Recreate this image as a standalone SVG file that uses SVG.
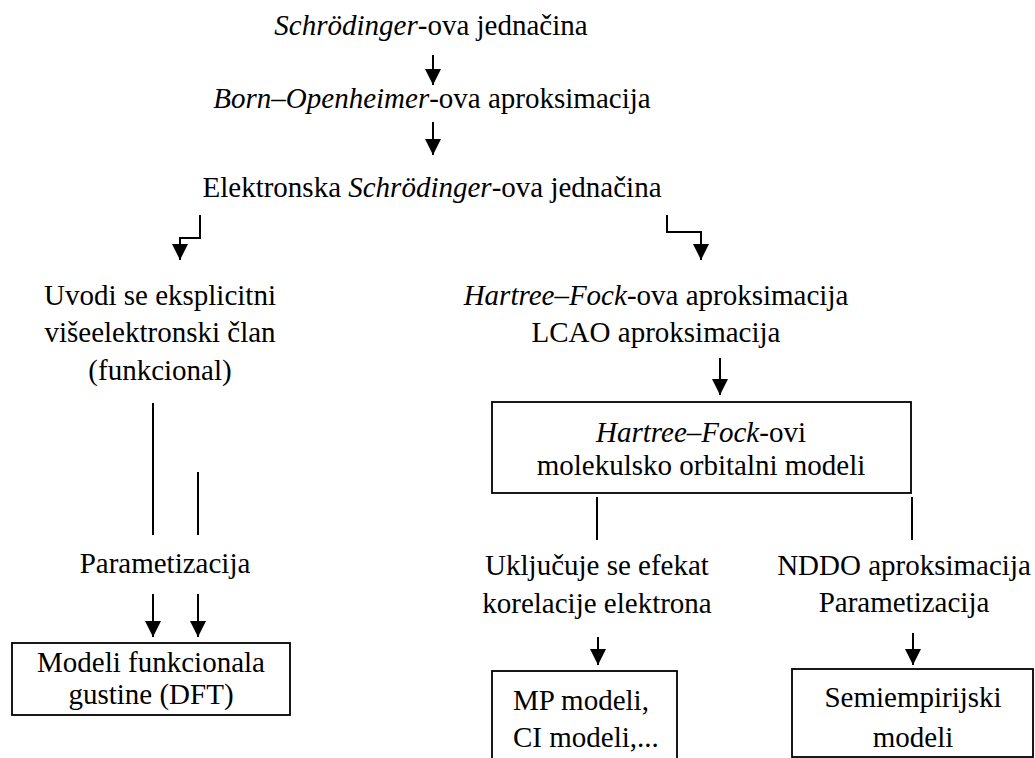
<svg xmlns="http://www.w3.org/2000/svg" width="1035" height="758" viewBox="0 0 1035 758">
<style>
text{font-family:"Liberation Serif","Times New Roman",serif;font-size:29px;fill:#000}
.c{text-anchor:middle}
.i{font-style:italic}
.ln{stroke:#000;stroke-width:2;fill:none}
.bx{stroke:#000;stroke-width:1.8;fill:#fff}
</style>
<defs>
<marker id="ah" viewBox="0 0 16 16" refX="16" refY="8" markerWidth="16" markerHeight="16" markerUnits="userSpaceOnUse" orient="auto">
<path d="M0,0 L16,8 L0,16 z" fill="#000"/>
</marker>
</defs>
<rect width="1035" height="758" fill="#fff"/>
<g id="connectors">
<path class="ln" d="M433,55 V85" marker-end="url(#ah)"/>
<path class="ln" d="M433,122 V155" marker-end="url(#ah)"/>
<path class="ln" d="M200,215 V238 H180 V260" marker-end="url(#ah)"/>
<path class="ln" d="M667,215 V232 H701 V260" marker-end="url(#ah)"/>
<path class="ln" d="M720,358 V395" marker-end="url(#ah)"/>
<path class="ln" d="M153,403 V535"/>
<path class="ln" d="M198,472 V535"/>
<path class="ln" d="M153,594 V637" marker-end="url(#ah)"/>
<path class="ln" d="M198,594 V637" marker-end="url(#ah)"/>
<path class="ln" d="M597,497 V540"/>
<path class="ln" d="M912,497 V540"/>
<path class="ln" d="M598,637 V665" marker-end="url(#ah)"/>
<path class="ln" d="M913,633 V665" marker-end="url(#ah)"/>
</g>
<g id="n-schrodinger"><text class="c" x="431" y="35"><tspan class="i">Schrödinger</tspan>-ova jednačina</text></g>
<g id="n-born"><text class="c" x="432" y="108"><tspan class="i">Born–Openheimer</tspan>-ova aproksimacija</text></g>
<g id="n-elektronska"><text class="c" x="432" y="197">Elektronska <tspan class="i">Schrödinger</tspan>-ova jednačina</text></g>
<g id="n-uvodi">
<text class="c" x="160" y="305">Uvodi se eksplicitni</text>
<text class="c" x="160" y="342">višeelektronski član</text>
<text class="c" x="160" y="380">(funkcional)</text>
</g>
<g id="n-hf">
<text class="c" x="656" y="305"><tspan class="i">Hartree–Fock</tspan>-ova aproksimacija</text>
<text class="c" x="656" y="342">LCAO aproksimacija</text>
</g>
<g id="n-hfmodels">
<rect class="bx" x="492" y="402" width="419" height="91"/>
<text class="c" x="701" y="442"><tspan class="i">Hartree–Fock</tspan>-ovi</text>
<text class="c" x="701" y="475">molekulsko orbitalni modeli</text>
</g>
<g id="n-param-left"><text class="c" x="165" y="573">Parametizacija</text></g>
<g id="n-korel">
<text class="c" x="597" y="575">Uključuje se efekat</text>
<text class="c" x="597" y="613">korelacije elektrona</text>
</g>
<g id="n-nddo">
<text class="c" x="904" y="575">NDDO aproksimacija</text>
<text class="c" x="904" y="612">Parametizacija</text>
</g>
<g id="n-dft">
<rect class="bx" x="12" y="643" width="278" height="72"/>
<text class="c" x="151" y="672">Modeli funkcionala</text>
<text class="c" x="151" y="704">gustine (DFT)</text>
</g>
<g id="n-mp">
<rect class="bx" x="492" y="671" width="185" height="100"/>
<text x="513" y="710">MP modeli,</text>
<text x="513" y="747">CI modeli,...</text>
</g>
<g id="n-semi">
<rect class="bx" x="792" y="669" width="241" height="88"/>
<text class="c" x="913" y="707">Semiempirijski</text>
<text class="c" x="913" y="747">modeli</text>
</g>
</svg>
